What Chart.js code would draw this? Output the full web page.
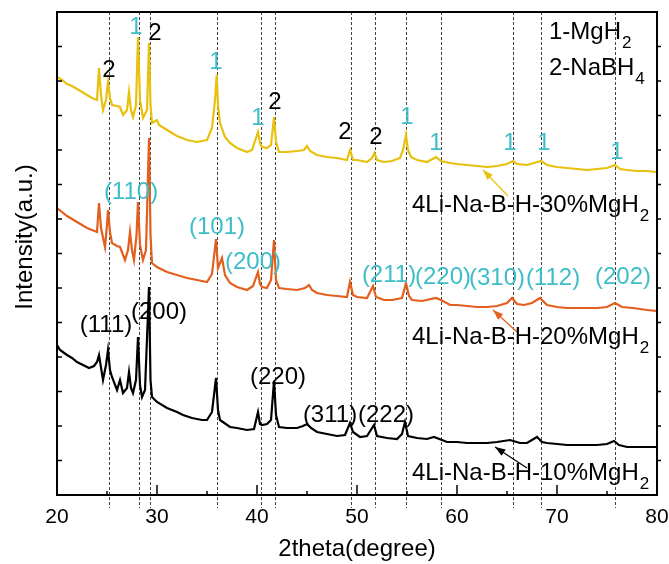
<!DOCTYPE html>
<html>
<head>
<meta charset="utf-8">
<script src="https://cdn.jsdelivr.net/npm/chart.js@4.4.0/dist/chart.umd.min.js"></script>
<style>
html, body { margin: 0; padding: 0; background: #fff; }
</style>
</head>
<body>
<canvas id="xrd" width="669" height="564"></canvas>
<script>
// 30% MgH2 (yellow)
var angle30 = [20.0,20.5,21.0,21.5,22.0,22.5,23.0,23.5,24.0,24.2,24.4,24.6,24.9,25.1,25.3,25.5,26.0,26.3,26.6,27.0,27.2,27.4,27.6,27.9,28.1,28.3,28.6,29.0,29.2,29.35,29.5,30.0,30.2,31,32,33,34,35,35.5,35.8,35.97,36.1,36.3,36.8,37.3,38,39,39.5,39.9,40.1,40.3,40.5,41.0,41.4,41.7,41.9,42.2,43,44,44.7,45.0,45.3,46,47,48,49,49.3,49.6,50,51,51.5,51.75,52.0,52.7,53.5,54.3,54.6,54.9,55.1,55.4,56,57,57.9,58.4,59.3,60,61,62,63,64,65,65.6,66,67,68.4,69,70,71,72,73,74,75,75.8,76.3,77,78,79,80];
var int30 = [418,415,411,409,406,403,400,397,395,427,400,385,395,413,397,390,389,388,380,385,403,385,378,390,458,395,377,385,452,390,372,375,370,365,359,355,353,355,367,395,420,390,372,358,352,347,343,345,357,363,352,348,347,350,378,353,343,343,344,345,349,344,340,338,337,335,345,335,335,333,337,342,335,333,334,337,345,360,345,338,335,333,338,334,332,331,330,329,328,329,331,334,331,330,334,330,328,327,326,325,326,327,330,326,325,324,324,323];

// 20% MgH2 (orange)
var angle20 = [20.0,20.5,21,21.5,22,22.5,23,23.5,24.0,24.2,24.4,24.8,25.0,25.1,25.3,25.5,26.0,26.3,26.8,27.1,27.3,27.5,27.7,27.95,28.1,28.3,28.6,28.9,29.2,29.35,29.5,30,31,32,33,34,35,35.5,35.9,36.1,36.5,36.8,37.3,38,39,39.6,40.1,40.3,40.5,41.0,41.4,41.7,41.9,42.2,43,44,44.8,45.2,45.5,46,47,48,49,49.3,49.6,50,51,51.6,51.9,52.7,53.5,54.5,54.9,55.2,55.5,56.5,57.9,58.4,59.3,60,61,62,63,64,65,65.5,66,66.7,67.5,68.3,69,70,71,72,73,74,75,75.8,76.5,77.6,79,80];
var int20 = [287,283,279,276,273,270,267,265,263,292,267,248,270,285,263,252,249,248,235,245,263,245,235,260,293,250,235,245,357,260,232,228,223,220,217,215,213,221,256,227,237,220,212,208,205,209,223,211,208,207,215,255,215,207,206,205,207,210,205,202,200,199,198,213,200,198,197,209,198,195,195,197,212,199,195,194,197,195,190,190,189,188,188,189,192,197,191,190,192,197,190,188,187,187,187,187,188,192,188,187,185,184];

// 10% MgH2 (black)
var angle10 = [20.0,20.3,21,21.5,22,22.6,23.2,23.7,24.0,24.2,24.6,24.9,25.1,25.3,25.5,26.0,26.3,26.6,27.0,27.2,27.4,27.6,27.9,28.1,28.3,28.5,28.8,29.2,29.35,29.5,30,31,32,32.6,33.5,34.5,35,35.5,35.9,36.1,36.3,37.3,38,39,39.7,40.1,40.3,40.5,41,41.4,41.7,41.9,42.2,43,44,44.6,45.0,45.4,46,47,48,48.8,49.3,49.6,50.3,51,51.7,52,53,54,54.5,54.8,55.1,56,57,57.7,58.5,59,60,61,62,63,64,65.3,66.3,67,68.0,68.5,69,70,71,72,73,74,75.0,75.7,76.2,77,78,79,80];
var int10 = [150,145,140,137,133,130,127,129,133,140,115,130,145,125,118,105,115,102,107,123,107,102,115,158,110,98,105,208,115,98,93,87,83,80,77,75,75,83,117,85,75,68,67,65,66,83,71,70,71,75,114,80,68,67,67,69,71,67,63,61,59,60,72,63,58,59,70,59,57,56,61,73,59,57,56,58,55,53,53,52,52,52,53,55,52,52,58,53,52,51,50,50,50,50,51,54,50,48,48,48,48];

var xTicks = [20, 30, 40, 50, 60, 70, 80];
var refLines = [25.2, 28.2, 29.25, 35.95, 40.35, 41.8, 49.35, 51.8, 54.9, 58.4, 65.6, 68.4, 75.8];

// phase markers on the 30% pattern
var phaseText = ['2','1','2','1','1','2','2','2','1','1','1','1','1'];
var phaseX = [25.2,27.9,29.8,35.9,40.1,41.8,48.8,51.9,55.0,57.9,65.3,68.7,76.0];
var phaseY = [425,468,462,433,377,393,363,358,378,352,352,352,343];

// MgH2 planes on the 20% pattern
var hklMgText = ['(110)','(101)','(200)','(211)','(220)','(310)','(112)','(202)'];
var hklMgX = [27.4,36.0,39.6,53.2,58.6,64.0,69.6,76.6];
var hklMgY = [303,268,233,220,218,217,217,218];

// planes on the 10% pattern
var hklText = ['(111)','(200)','(220)','(311)','(222)'];
var hklX = [24.9,30.2,42.1,47.3,52.9];
var hklY = [170,183,118,80,80];

var sampleNames = ['4Li-Na-B-H-30%MgH_2', '4Li-Na-B-H-20%MgH_2', '4Li-Na-B-H-10%MgH_2'];
var sampleX = [55.5, 55.5, 55.5];
var sampleY = [290, 158, 22];
var arrowFrom = [[65.1, 299], [66.0, 163], [67.0, 27]];
var arrowTo = [[62.6, 325], [63.6, 185], [63.8, 48]];

var YELLOW = '#E8C10E', ORANGE = '#E35F1E', BLACK = '#000000', TEAL = '#3DBDC8';
var FONT = '"Liberation Sans", Arial, sans-serif';

function pts(xs, ys) {
  var out = [];
  for (var i = 0; i < xs.length; i++) out.push({x: xs[i], y: ys[i]});
  return out;
}

function drawRich(ctx, str, x, y, align, color) {
  var parts = str.split('_');
  var main = parts[0], sub = parts[1] || '';
  ctx.font = '24px ' + FONT;
  var w1 = ctx.measureText(main).width;
  ctx.font = '17px ' + FONT;
  var w2 = sub ? ctx.measureText(sub).width : 0;
  var x0 = align == 'center' ? x - (w1 + w2) / 2 : x;
  ctx.fillStyle = color;
  ctx.textAlign = 'left';
  ctx.textBaseline = 'middle';
  ctx.font = '24px ' + FONT;
  ctx.fillText(main, x0, y);
  if (sub) {
    ctx.font = '17px ' + FONT;
    ctx.fillText(sub, x0 + w1 + 1, y + 11);
  }
}

var decor = {
  id: 'decor',
  beforeDatasetsDraw: function(chart) {
    var ctx = chart.ctx, xs = chart.scales.x, a = chart.chartArea;
    ctx.save();
    ctx.strokeStyle = '#444';
    ctx.lineWidth = 1;
    ctx.setLineDash([3, 2]);
    for (var i = 0; i < refLines.length; i++) {
      var px = Math.round(xs.getPixelForValue(refLines[i])) + 0.5;
      ctx.beginPath();
      ctx.moveTo(px, a.top);
      ctx.lineTo(px, a.bottom + 13);
      ctx.stroke();
    }
    ctx.restore();
  },
  afterDatasetsDraw: function(chart) {
    var ctx = chart.ctx, xs = chart.scales.x, ys = chart.scales.y, a = chart.chartArea;
    ctx.save();
    var i;
    for (i = 0; i < phaseText.length; i++) {
      drawRich(ctx, phaseText[i], xs.getPixelForValue(phaseX[i]), ys.getPixelForValue(phaseY[i]), 'center',
        phaseText[i] == '1' ? TEAL : BLACK);
    }
    for (i = 0; i < hklMgText.length; i++) {
      drawRich(ctx, hklMgText[i], xs.getPixelForValue(hklMgX[i]), ys.getPixelForValue(hklMgY[i]), 'center', TEAL);
    }
    for (i = 0; i < hklText.length; i++) {
      drawRich(ctx, hklText[i], xs.getPixelForValue(hklX[i]), ys.getPixelForValue(hklY[i]), 'center', BLACK);
    }
    drawRich(ctx, '1-MgH_2', xs.getPixelForValue(69.2), ys.getPixelForValue(463), 'left', BLACK);
    drawRich(ctx, '2-NaBH_4', xs.getPixelForValue(69.2), ys.getPixelForValue(427), 'left', BLACK);

    var colors = [YELLOW, ORANGE, BLACK];
    for (i = 0; i < sampleNames.length; i++) {
      var x1 = xs.getPixelForValue(arrowFrom[i][0]), y1 = ys.getPixelForValue(arrowFrom[i][1]);
      var x2 = xs.getPixelForValue(arrowTo[i][0]), y2 = ys.getPixelForValue(arrowTo[i][1]);
      ctx.strokeStyle = colors[i];
      ctx.fillStyle = colors[i];
      ctx.lineWidth = 1.2;
      ctx.beginPath();
      ctx.moveTo(x1, y1);
      ctx.lineTo(x2, y2);
      ctx.stroke();
      var ang = Math.atan2(y2 - y1, x2 - x1);
      ctx.beginPath();
      ctx.moveTo(x2, y2);
      ctx.lineTo(x2 - 11 * Math.cos(ang - 0.35), y2 - 11 * Math.sin(ang - 0.35));
      ctx.lineTo(x2 - 11 * Math.cos(ang + 0.35), y2 - 11 * Math.sin(ang + 0.35));
      ctx.closePath();
      ctx.fill();
      drawRich(ctx, sampleNames[i], xs.getPixelForValue(sampleX[i]), ys.getPixelForValue(sampleY[i]), 'left', BLACK);
    }

    // frame and inward ticks
    ctx.strokeStyle = '#000';
    ctx.lineWidth = 2;
    ctx.strokeRect(a.left, a.top, a.right - a.left, a.bottom - a.top);
    ctx.lineWidth = 1.5;
    ctx.beginPath();
    for (var v = 25; v < 80; v += 5) {
      var tx = xs.getPixelForValue(v);
      var len = v % 10 == 0 ? 10 : 4;
      ctx.moveTo(tx, a.bottom);
      ctx.lineTo(tx, a.bottom - len);
    }
    for (var k = 1; k < 14; k++) {
      var ty = ys.getPixelForValue(k * 34.5);
      ctx.moveTo(a.left, ty);
      ctx.lineTo(a.left + 5, ty);
      ctx.moveTo(a.right, ty);
      ctx.lineTo(a.right + 4, ty);
    }
    ctx.stroke();

    // y title
    ctx.translate(25, 237);
    ctx.rotate(-Math.PI / 2);
    ctx.fillStyle = '#000';
    ctx.font = '24px ' + FONT;
    ctx.textAlign = 'center';
    ctx.textBaseline = 'middle';
    ctx.fillText('Intensity(a.u.)', 0, 0);
    ctx.restore();
  }
};

new Chart(document.getElementById('xrd'), {
  type: 'line',
  data: {
    datasets: [
      { label: '10%', data: pts(angle10, int10), borderColor: BLACK, borderWidth: 2.2, pointRadius: 0, tension: 0 },
      { label: '20%', data: pts(angle20, int20), borderColor: ORANGE, borderWidth: 2.2, pointRadius: 0, tension: 0 },
      { label: '30%', data: pts(angle30, int30), borderColor: YELLOW, borderWidth: 2.2, pointRadius: 0, tension: 0 }
    ]
  },
  options: {
    responsive: false,
    animation: false,
    layout: { padding: { top: 12, right: 12, left: 0, bottom: 0 } },
    plugins: { legend: { display: false }, tooltip: { enabled: false } },
    scales: {
      x: {
        type: 'linear',
        min: 20,
        max: 80,
        afterBuildTicks: function(s) { s.ticks = xTicks.map(function(v) { return {value: v}; }); },
        afterFit: function(s) { s.height = 69; s.paddingLeft = 0; s.paddingRight = 0; },
        grid: { display: false, drawTicks: false },
        border: { display: false },
        ticks: { color: '#000', padding: 10, font: { family: FONT, size: 21 }, maxRotation: 0 },
        title: { display: true, text: '2theta(degree)', color: '#000', padding: 0, font: { family: FONT, size: 24 } }
      },
      y: {
        min: 0,
        max: 483,
        afterFit: function(s) { s.width = 57; s.paddingTop = 0; s.paddingBottom = 0; },
        grid: { display: false, drawTicks: false },
        border: { display: false },
        ticks: { display: false }
      }
    }
  },
  plugins: [decor]
});
</script>
</body>
</html>
